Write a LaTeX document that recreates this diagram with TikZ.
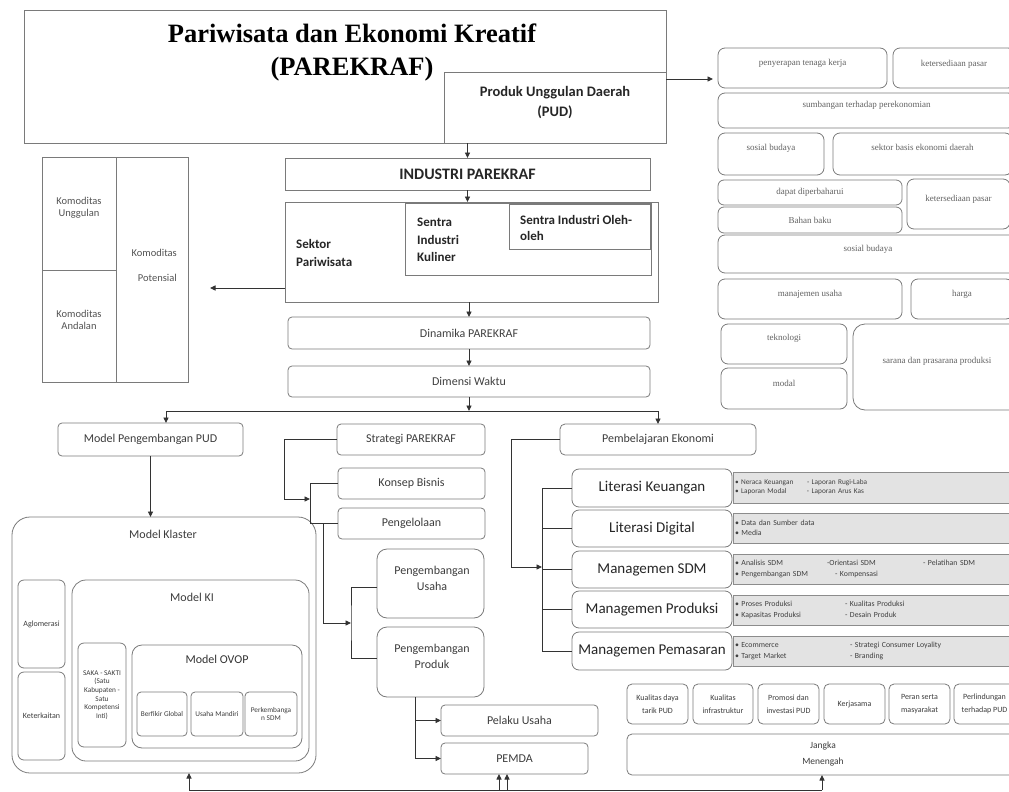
\documentclass[tikz,border=0pt]{standalone}
\usepackage{fontspec}
\setmainfont{Carlito}
\newfontfamily\tnr{Liberation Serif}
\usetikzlibrary{arrows.meta,calc}
\definecolor{bord}{HTML}{7A7A7A}
\definecolor{lnc}{HTML}{333333}
\definecolor{tx}{HTML}{3C3C3C}
\definecolor{gfill}{HTML}{E3E3E3}
\newcommand\myfs[2]{\fontsize{#1}{#2}\selectfont}
\newcommand\mybx[7][]{%
  \pgfmathsetmacro\myW{#5-#3}\pgfmathsetmacro\myH{#6-#4}%
  \pgfmathsetmacro\myX{(#3+#5)/2}\pgfmathsetmacro\myY{(#4+#6)/2}%
  \node[box,minimum width=\myW pt,minimum height=\myH pt,#1] (#2) at (\myX,\myY) {#7};}
\begin{document}
\begin{tikzpicture}[x=1pt,y=-1pt,
  box/.style={draw=bord,line width=0.8pt,inner sep=0pt,outer sep=0pt,align=center,text=tx,font=\myfs{12}{14}},
  ser/.style={box,rounded corners=7pt,font=\tnr\myfs{9}{11},text=black!62},
  tdep/.style={text height=0pt,text depth=#1},
  grey/.style={box,fill=gfill,draw=black!45,align=left,text width=278pt,inner xsep=2pt,font=\myfs{7.8}{10.5},text=black!75},
  lit/.style={box,rounded corners=7pt,font=\myfs{15}{17},text=black!85},
  sm/.style={box,rounded corners=5pt,font=\myfs{8}{12.5},text=tx},
  tiny/.style={box,rounded corners=4pt,font=\myfs{7.3}{8.7},text=tx},
  lbl/.style={inner sep=0pt,align=center,text=tx,font=\myfs{12}{14}},
  wire/.style={draw=lnc,line width=0.9pt},
  arr/.style={wire,-{Triangle[length=5.5pt,width=5pt]}}]
\useasboundingbox (0,0) rectangle (1009,792);
\clip (0,0) rectangle (1009,792);

% ---------- top ----------
\mybx{parekraf}{24}{10}{666}{143}{}
\node[font=\tnr\bfseries\myfs{26.5}{33},text=black,align=center,inner sep=0pt] (title) at (352,52) {Pariwisata dan Ekonomi Kreatif\\(PAREKRAF)};
\mybx{pud}{444}{72}{666}{143}{}
\node[lbl,font=\bfseries\myfs{14.5}{20},text=black!85] (pudt) at (555,103) {Produk Unggulan Daerah\\(PUD)};

\mybx[font=\bfseries\myfs{16}{18},text=black!85]{ind}{285}{158}{650}{190}{INDUSTRI PAREKRAF}

\mybx{sek}{285}{202}{658}{302}{}
\mybx{kul}{405}{203}{651}{275}{}
\mybx{ole}{509}{204}{650}{249}{}
\node[lbl,anchor=west,align=left,font=\bfseries\myfs{13}{18},text=black!85] (sekt) at (296,253) {Sektor\\Pariwisata};
\node[lbl,anchor=west,align=left,font=\bfseries\myfs{13}{17.5},text=black!85] (kult) at (417,240) {Sentra\\Industri\\Kuliner};
\node[lbl,anchor=west,align=left,font=\bfseries\myfs{13}{16},text=black!85] (olet) at (520,228) {Sentra Industri Oleh-\\oleh};

% ---------- komoditas ----------
\mybx{kom}{42}{157}{188}{382}{}
\mybx{ku}{42}{157}{116}{270}{}
\mybx{ka}{42}{270}{116}{382}{}
\mybx{kp}{116}{157}{188}{382}{}
\node[lbl,font=\myfs{10.5}{12.5},text=black!68] (kut) at (79,208) {Komoditas\\Unggulan};
\node[lbl,font=\myfs{10.5}{12.5},text=black!68] (kat) at (79,320) {Komoditas\\Andalan};
\node[lbl,anchor=east,align=right,font=\myfs{10.5}{12.5},text=black!68] (kpt) at (177,265.5) {Komoditas\\[12pt]Potensial};

% ---------- right column ----------
\mybx[ser,tdep=5.5pt]{r1}{718}{48}{887}{88}{penyerapan tenaga kerja}
\mybx[ser,tdep=3.5pt]{r2}{893}{48}{1015}{88}{ketersediaan pasar}
\mybx[ser,tdep=6.5pt]{r3}{718}{93}{1015}{128}{sumbangan terhadap perekonomian}
\mybx[ser,tdep=7.5pt]{r4}{718}{133}{824}{175}{sosial budaya}
\mybx[ser,tdep=7.5pt]{r5}{833}{133}{1012}{175}{sektor basis ekonomi daerah}
\mybx[ser,rounded corners=6pt]{r6}{718}{180}{902}{205}{dapat diperbaharui}
\mybx[ser,rounded corners=6pt]{r7}{718}{207}{902}{233}{Bahan baku}
\mybx[ser,tdep=5.5pt]{r8}{907}{179}{1010}{229}{ketersediaan pasar}
\mybx[ser,tdep=5.5pt]{r9}{718}{235}{1018}{273}{sosial budaya}
\mybx[ser,tdep=5.5pt]{r10}{718}{279}{902}{319}{manajemen usaha}
\mybx[ser,tdep=5.5pt]{r11}{911}{279}{1013}{319}{harga}
\mybx[ser,tdep=7.5pt]{r12}{721}{324}{847}{364}{teknologi}
\mybx[ser,tdep=4.5pt]{r13}{721}{368}{847}{409}{modal}
\mybx[ser,rounded corners=12pt,tdep=7.5pt]{r14}{853}{324}{1021}{410}{sarana dan prasarana produksi}

% ---------- middle column ----------
\mybx[rounded corners=4pt,text=black!75]{din}{288}{317}{650}{349}{Dinamika PAREKRAF}
\mybx[rounded corners=4pt,text=black!75]{dim}{288}{366}{650}{397}{Dimensi Waktu}
\mybx[rounded corners=4pt]{mpp}{58}{423}{243}{456}{Model Pengembangan PUD}
\mybx[rounded corners=4pt]{str}{337}{424}{485}{455}{Strategi PAREKRAF}
\mybx[rounded corners=4pt]{kb}{338}{468}{485}{499}{Konsep Bisnis}
\mybx[rounded corners=4pt]{pg}{338}{508}{485}{539}{Pengelolaan}
\mybx[rounded corners=10pt]{pu}{377}{549}{484}{618}{}
\mybx[rounded corners=10pt]{pp}{377}{627}{484}{697}{}
\node[lbl,font=\myfs{12}{16}] (put) at (432,578) {Pengembangan\\Usaha};
\node[lbl,font=\myfs{12}{16}] (ppt) at (432,656) {Pengembangan\\Produk};
\mybx[rounded corners=4pt]{pel}{441}{705}{598}{736}{Pelaku Usaha}
\mybx[rounded corners=4pt]{pem}{441}{743}{588}{774}{PEMDA}
\mybx[rounded corners=5pt]{pe}{560}{424}{756}{455}{Pembelajaran Ekonomi}

% ---------- model klaster ----------
\mybx[rounded corners=18pt]{mk}{12}{517}{316}{773}{}
\node[lbl] (mkt) at (163,534) {Model Klaster};
\mybx[rounded corners=14pt]{mki}{72}{580}{309}{761}{}
\node[lbl] (mkit) at (192,597) {Model KI};
\mybx[tiny,rounded corners=6pt,font=\myfs{8}{10}]{agl}{18}{580}{65}{668}{Aglomerasi}
\mybx[tiny,rounded corners=6pt,font=\myfs{8}{10}]{ket}{18}{672}{65}{760}{Keterkaitan}
\mybx[tiny,rounded corners=6pt]{saka}{78}{643}{126}{747}{SAKA - SAKTI\\(Satu\\Kabupaten -\\Satu\\Kompetensi\\Inti)}
\mybx[rounded corners=10pt]{ovop}{132}{645}{302}{748}{}
\node[lbl,text=black!80] (ovopt) at (217,659) {Model OVOP};
\mybx[tiny]{bg}{137}{692}{187}{736}{Berfikir Global}
\mybx[tiny]{um}{191}{692}{243}{736}{Usaha Mandiri}
\mybx[tiny]{ps}{245}{692}{297}{736}{Perkembanga\\n SDM}

% ---------- literasi ----------
\mybx[lit]{lk}{572}{469}{732}{507}{Literasi Keuangan}
\mybx[lit]{ld}{572}{510}{732}{547}{Literasi Digital}
\mybx[lit]{ms}{572}{551}{732}{588}{Managemen SDM}
\mybx[lit]{mpr}{572}{591}{732}{628}{Managemen Produksi}
\mybx[lit]{mpm}{572}{632}{732}{670}{Managemen Pemasaran}
\mybx[grey,font=\myfs{7.3}{9}]{glk}{733}{472}{1015}{503}{\makebox[72pt][l]{\textbullet\ Neraca Keuangan}- Laporan Rugi-Laba\\\makebox[72pt][l]{\textbullet\ Laporan Modal}- Laporan Arus Kas}
\mybx[grey]{gld}{733}{513}{1015}{543}{\textbullet\ Data dan Sumber data\\\textbullet\ Media}
\mybx[grey]{gms}{733}{554}{1015}{584}{\makebox[92pt][l]{\textbullet\ Analisis SDM}\makebox[96pt][l]{-Orientasi SDM}- Pelatihan SDM\\\makebox[100pt][l]{\textbullet\ Pengembangan SDM}- Kompensasi}
\mybx[grey]{gpr}{733}{595}{1015}{625}{\makebox[110pt][l]{\textbullet\ Proses Produksi}- Kualitas Produksi\\\makebox[110pt][l]{\textbullet\ Kapasitas Produksi}- Desain Produk}
\mybx[grey]{gpm}{733}{636}{1015}{666}{\makebox[115pt][l]{\textbullet\ Ecommerce}- Strategi Consumer Loyality\\\makebox[115pt][l]{\textbullet\ Target Market}- Branding}

% ---------- bottom right ----------
\mybx[sm]{s1}{627}{684}{688}{724}{Kualitas daya\\tarik PUD}
\mybx[sm]{s2}{693}{684}{753}{724}{Kualitas\\infrastruktur}
\mybx[sm]{s3}{758}{684}{819}{724}{Promosi dan\\investasi PUD}
\mybx[sm]{s4}{824}{684}{885}{724}{Kerjasama}
\mybx[sm]{s5}{889}{684}{950}{724}{Peran serta\\masyarakat}
\mybx[sm]{s6}{954}{684}{1015}{724}{Perlindungan\\terhadap PUD}
\mybx[sm,font=\myfs{9.5}{16}]{jm}{627}{734}{1019}{775}{Jangka\\Menengah}

% ---------- connectors ----------
\coordinate (py) at (0,79);
\draw[arr,shorten >=5pt] (pud.east |- py) -- (r1.west |- py);
\draw[arr] (pud.south -| ind.north) -- (ind.north);
\draw[arr] (ind.south) -- (ind.south |- sek.north);
\coordinate (ky) at (0,288);
\draw[arr,shorten >=22pt] (sek.west |- ky) -- (kom.east |- ky);
\draw[arr] (din.north |- sek.south) -- (din.north);
\draw[arr] (din.south) -- (dim.north);
\coordinate (dl) at (166,411);
\coordinate (dr) at (658,411);
\draw[arr] (dim.south) -- (dim.south |- dl);
\draw[wire] (dl) -- (dr);
\draw[arr] (dl) -- (dl |- mpp.north);
\draw[arr] (dr) -- (dr |- pe.north);
\draw[arr] (mpp.south) -- (mpp.south |- mk.north);

\coordinate (c1) at (310,499);
\draw[arr] (str.west) -- ++(-53,0) |- (c1);
\draw[wire] (kb.west) -- ++(-28,0) |- (pg.west);
\coordinate (c2) at (351,623);
\draw[arr] (pg.west) ++(-15,0) |- (c2);
\coordinate (u1) at (0,587);
\coordinate (u2) at (0,658);
\draw[wire] (pu.west |- u1) -| (c2) |- (pp.west |- u2);
\draw[arr] (pp.south) ++(-15.5,0) |- (pel.west);
\draw[arr] (pp.south) ++(-15.5,0) |- (pem.west);

\coordinate (c3) at (542,567);
\draw[arr] (pe.west) -- ++(-49,0) |- (c3);
\draw[wire] (lk.west) -- ++(-30,0) |- (mpm.west);
\draw[wire] (ld.west) -- ++(-30,0);
\draw[wire] (ms.west) -- ++(-30,0);
\draw[wire] (mpr.west) -- ++(-30,0);

\coordinate (b1) at (189,790);
\coordinate (b2) at (499,790);
\coordinate (b3) at (507,790);
\coordinate (b4) at (822,790);
\draw[wire] (b1) -- (b4);
\draw[arr] (b1) -- (b1 |- mk.south);
\draw[arr] (b2) -- (b2 |- pem.south);
\draw[arr] (b3) -- (b3 |- pem.south);
\draw[arr] (b4) -- (b4 |- jm.south);
\end{tikzpicture}
\end{document}
